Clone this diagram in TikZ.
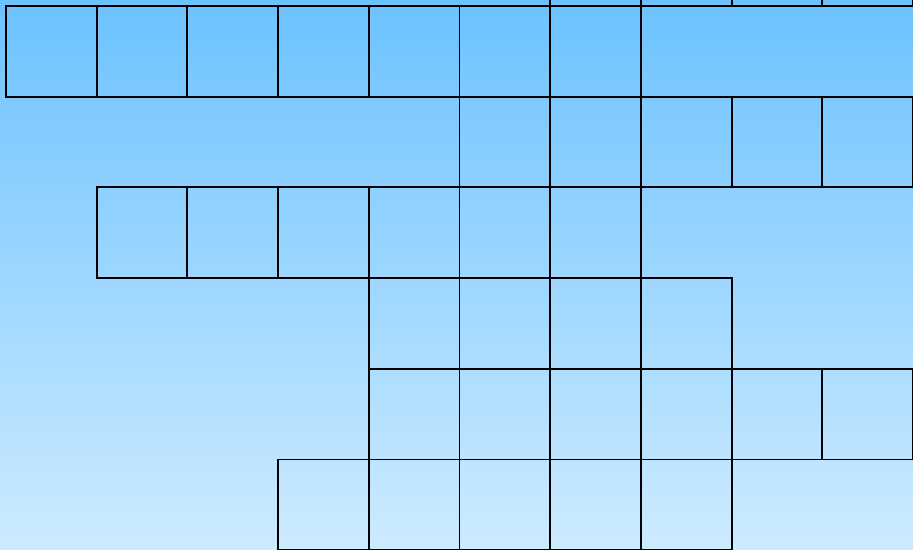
\documentclass[tikz,border=0pt]{standalone}
\definecolor{skytop}{RGB}{108,194,255}
\definecolor{skybot}{RGB}{205,235,255}
\begin{document}
\begin{tikzpicture}[cell/.style={draw=black,line width=.6pt}]
\path[use as bounding box,top color=skytop,bottom color=skybot] (-.066,.066) rectangle (10,-5.987);
% rows of squares: top edge / first column / last column
\foreach \y/\a/\b in {1/6/9,0/0/6,-1/5/9,-2/1/6,-3/4/7,-4/4/9,-5/3/7}
  \foreach \c in {\a,...,\b}
    \draw[cell] (\c,\y) rectangle +(1,-1);
\draw[cell] (7,0) rectangle (10.5,-1);
\end{tikzpicture}
\end{document}
